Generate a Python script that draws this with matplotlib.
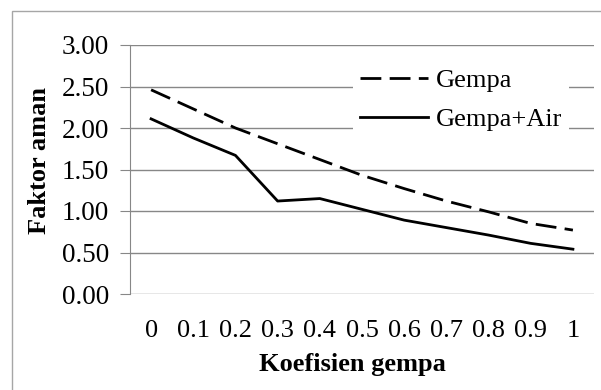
import numpy as np
import matplotlib.pyplot as plt
from matplotlib.patches import Rectangle

plt.rcParams['font.family'] = ['Liberation Serif', 'DejaVu Serif']

# koefisien gempa vs faktor aman
koef = ['0', '0.1', '0.2', '0.3', '0.4', '0.5', '0.6', '0.7', '0.8', '0.9', '1']
gempa = [2.46, 2.23, 2.00, 1.81, 1.62, 1.43, 1.27, 1.12, 0.99, 0.85, 0.77]
gempa_air = [2.11, 1.88, 1.67, 1.12, 1.15, 1.02, 0.89, 0.80, 0.71, 0.61, 0.54]
yticks = [0.0, 0.5, 1.0, 1.5, 2.0, 2.5, 3.0]

fig = plt.figure(figsize=(6.01, 3.90), dpi=100)
fig.patches.append(Rectangle((12/601, -0.1), 1.0, 1.1 - 11/390, transform=fig.transFigure,
                             fill=False, edgecolor='#a6a6a6', lw=1.0))

ax = fig.add_axes([130/601, 1 - 294/390, 464/601, 249/390])
x = np.arange(len(koef))
ax.plot(x, gempa, color='black', lw=2, ls=(0, (7.5, 3)), label='Gempa')
ax.plot(x, gempa_air, color='black', lw=2, label='Gempa+Air')

ax.set_xlim(-0.5, len(koef) - 0.5)
ax.set_ylim(0, 3)
ax.set_xticks(x)
ax.set_xticklabels(koef)
ax.set_yticks(yticks)
ax.set_yticklabels(['%.2f' % v for v in yticks])
ax.tick_params(axis='x', length=0, labelsize=19, pad=19)
ax.tick_params(axis='y', length=7, color='#878787', labelsize=19.5, pad=8)
ax.grid(axis='y', color='#878787', lw=1)
ax.set_axisbelow(True)
for side in ['top', 'right', 'bottom']:
    ax.spines[side].set_visible(False)
ax.spines['left'].set_color('#878787')

ax.set_xlabel('Koefisien gempa', fontsize=19, fontweight='bold')
ax.xaxis.set_label_coords((352 - 130) / 464, -(364 - 294) / 249, transform=ax.transAxes)
ax.xaxis.label.set_va('center')
ax.set_ylabel('Faktor aman', fontsize=19, fontweight='bold')
ax.yaxis.set_label_coords(-(130 - 40) / 464, (294 - 160) / 249, transform=ax.transAxes)
ax.yaxis.label.set_va('center')

leg = ax.legend(loc='upper left', bbox_to_anchor=((353 - 130) / 464, (294 - 62) / 249),
                fontsize=19, frameon=True, fancybox=False, edgecolor='none', framealpha=1,
                handlelength=2.6, handletextpad=0.3, labelspacing=0.6, borderpad=0.25,
                borderaxespad=0)

plt.savefig('out.png', dpi=100)
